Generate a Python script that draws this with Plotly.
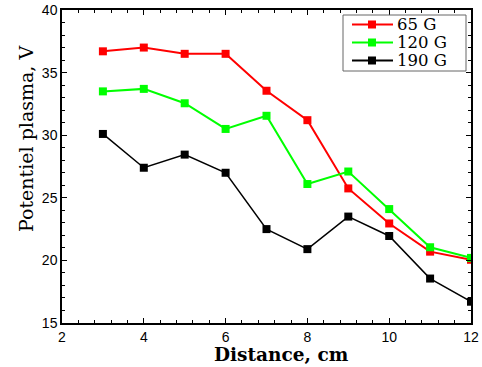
import plotly.graph_objects as go

distance = [3, 4, 5, 6, 7, 8, 9, 10, 11, 12]
v65 = [36.7, 37.0, 36.5, 36.5, 33.55, 31.2, 25.75, 22.95, 20.7, 20.05]
v120 = [33.5, 33.7, 32.55, 30.5, 31.55, 26.1, 27.1, 24.1, 21.05, 20.2]
v190 = [30.1, 27.4, 28.45, 27.0, 22.5, 20.9, 23.5, 21.95, 18.55, 16.7]
names = ["65 G", "120 G", "190 G"]
colors = ["#ff0000", "#00ff00", "#000000"]
widths = [2, 2, 1.5]

W, H = 482, 367
L, R, T, B = 62, 11, 10, 44
pw, ph = W - L - R, H - T - B

def px_x(p):
    return (p - L) / pw

def px_y(p):
    return (H - B - p) / ph

fig = go.Figure()
for name, vals, c, w in zip(names, [v65, v120, v190], colors, widths):
    fig.add_trace(go.Scatter(x=distance, y=vals, name=name, mode="lines+markers",
                             line=dict(color=c, width=w),
                             marker=dict(symbol="square", size=8, color=c),
                             showlegend=False))

axis_common = dict(showline=True, linecolor="black", linewidth=1.5, mirror="ticks",
                   ticks="inside", ticklen=5, tickwidth=1, tickcolor="black",
                   showgrid=False, zeroline=False, automargin=False,
                   tickfont=dict(family="Liberation Sans, Arial", size=14, color="black"))

fig.update_xaxes(range=[2, 12], tickvals=[2, 4, 6, 8, 10, 12],
                 minor=dict(ticks="inside", ticklen=3, dtick=0.4, tickcolor="black"),
                 **axis_common)
fig.update_yaxes(range=[15, 40], tickvals=[15, 20, 25, 30, 35, 40],
                 minor=dict(ticks="inside", ticklen=3, dtick=1, tickcolor="black"),
                 **axis_common)

annotations = [
    dict(text="<b>Distance, cm</b>", x=px_x(281), y=px_y(354), xref="paper", yref="paper",
         showarrow=False, xanchor="center", yanchor="middle", borderpad=0,
         font=dict(family="DejaVu Serif", size=18.5, color="black")),
    dict(text="Potentiel plasma, V", x=px_x(26), y=px_y(139), xref="paper", yref="paper",
         showarrow=False, xanchor="center", yanchor="middle", textangle=-90, borderpad=0,
         font=dict(family="DejaVu Serif", size=19, color="black")),
]
shapes = [
    dict(type="rect", xref="paper", yref="paper", x0=px_x(343), x1=px_x(466),
         y0=px_y(71), y1=px_y(15), line=dict(color="#666666", width=1), fillcolor="white",
         layer="above"),
]
rows = [24.5, 42.5, 60.5]
for name, c, w, ry in zip(names, colors, widths, rows):
    shapes.append(dict(type="line", xref="paper", yref="paper", x0=px_x(352), x1=px_x(393),
                       y0=px_y(ry), y1=px_y(ry), line=dict(color=c, width=2), layer="above"))
    shapes.append(dict(type="rect", xref="paper", yref="paper", x0=px_x(368), x1=px_x(376),
                       y0=px_y(ry + 4), y1=px_y(ry - 4), line=dict(color=c, width=0),
                       fillcolor=c, layer="above"))
    annotations.append(dict(text=name, x=px_x(396), y=px_y(ry), xref="paper", yref="paper",
                            showarrow=False, xanchor="left", yanchor="middle", borderpad=0,
                            font=dict(family="DejaVu Serif", size=16.5, color="black")))

fig.update_layout(width=W, height=H, margin=dict(l=L, r=R, t=T, b=B, autoexpand=False),
                  plot_bgcolor="white", paper_bgcolor="white", showlegend=False,
                  annotations=annotations, shapes=shapes)

fig.write_html("out.html", config={"displayModeBar": False},
               post_script="document.body.style.margin='0';document.body.style.overflow='hidden';")
